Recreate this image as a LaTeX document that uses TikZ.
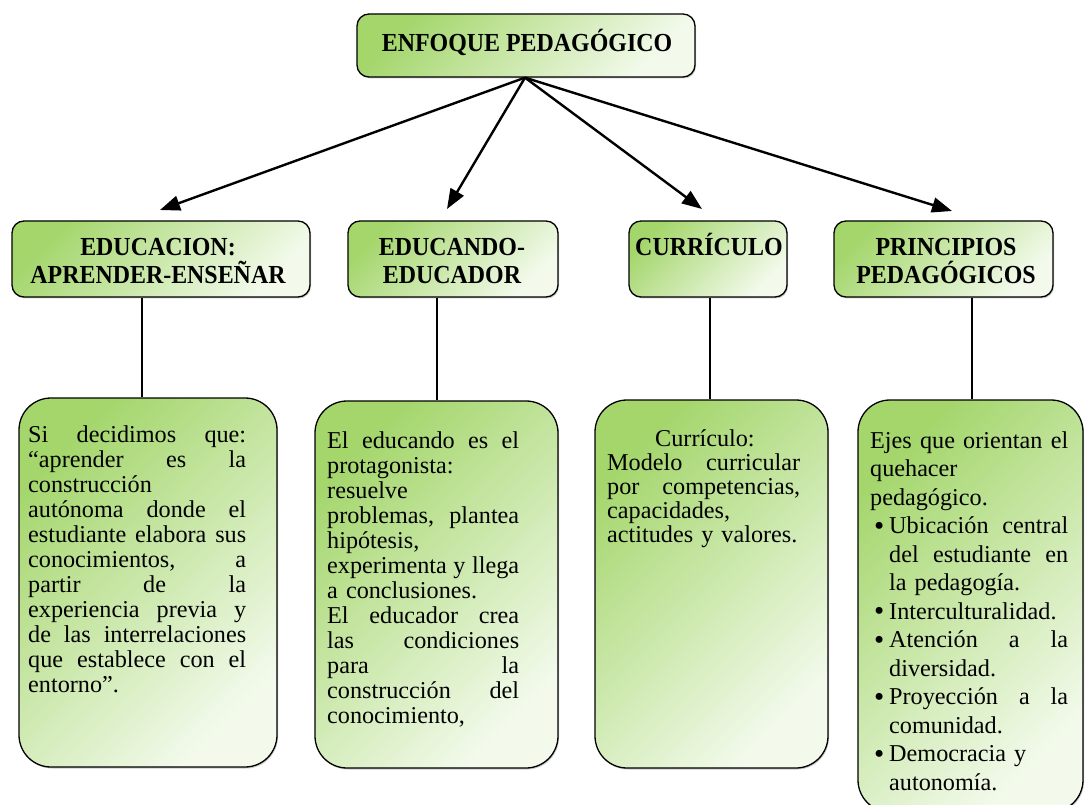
\documentclass[tikz,border=0pt]{standalone}
\usepackage{fontspec}
\setmainfont{Liberation Serif}
\newfontfamily\headfont{Liberation Serif}[FakeStretch=0.92]
\usetikzlibrary{arrows.meta,shadows,calc}
\definecolor{gA}{RGB}{164,214,108}
\definecolor{gB}{RGB}{243,250,236}
\newcommand{\jl}[1]{\makebox[\hsize][s]{\spaceskip=0pt\xspaceskip=0pt #1}}
\newcommand{\bul}{\makebox[19pt][l]{\hspace{4pt}\raisebox{-1.6pt}{\scalebox{1.2}{\textbullet}}}}
\newcommand{\ind}{\makebox[19pt]{}}
\newcommand{\bjl}[1]{\bul\makebox[\dimexpr\hsize-19pt\relax][s]{\spaceskip=0pt\xspaceskip=0pt #1}}
\newcommand{\ijl}[1]{\ind\makebox[\dimexpr\hsize-19pt\relax][s]{\spaceskip=0pt\xspaceskip=0pt #1}}
\tikzset{
  grad/.style={top color=gA, bottom color=gB, shading angle=45},
  shad/.style={drop shadow={shadow xshift=1pt, shadow yshift=-1.5pt, fill=black!40, opacity=0.5}},
  headbox/.style={shad, grad, draw=black, line width=1.3pt, rounded corners=12pt, inner sep=0pt},
  bodybox/.style={shad, grad, draw=black, line width=1.3pt, rounded corners=32pt, inner sep=0pt},
  headtext/.style={font=\headfont\fontsize{26}{28}\selectfont\bfseries, inner sep=0pt, align=center, anchor=north},
  bodytext/.style={font=\fontsize{24.2}{25}\selectfont, inner sep=0pt, align=left, anchor=north west},
  ctext/.style={font=\fontsize{24.2}{24}\selectfont, inner sep=0pt, align=left, anchor=north west},
  listtext/.style={font=\fontsize{24.2}{28.5}\selectfont, inner sep=0pt, align=left, anchor=north west},
  arr/.style={-{Triangle[length=20pt,width=15pt]}, line width=2.4pt},
  vline/.style={line width=1.8pt},
}
\begin{document}
\begin{tikzpicture}[x=1pt,y=-1pt]
\useasboundingbox[fill=white] (0,0) rectangle (1085,805);
% top box
\node[headbox, minimum width=338pt, minimum height=63pt] (top) at (526,45.5) {};
\node[headtext] (topt) at (527,27) {\rule{0pt}{24pt}ENFOQUE PEDAGÓGICO};
% second row
\node[headbox, minimum width=298pt, minimum height=76pt] (A) at (161,259) {};
\node[headbox, minimum width=210pt, minimum height=76pt] (B) at (453,259) {};
\node[headbox, minimum width=158pt, minimum height=76pt] (C) at (708,259) {};
\node[headbox, minimum width=219pt, minimum height=76pt] (D) at (943.5,259) {};
\node[headtext] (At) at (158,231) {\rule{0pt}{24pt}EDUCACION:\\APRENDER-ENSEÑAR};
\node[headtext] (Bt) at (452,231) {\rule{0pt}{24pt}EDUCANDO-\\EDUCADOR};
\node[headtext] (Ct) at (709,231) {\rule{0pt}{24pt}CURRÍCULO};
\node[headtext] (Dt) at (946,231) {\rule{0pt}{24pt}PRINCIPIOS\\PEDAGÓGICOS};
% third row
\node[bodybox, minimum width=258pt, minimum height=369pt] (A2) at (148,582.5) {};
\node[bodybox, minimum width=243pt, minimum height=367pt] (B2) at (436.5,584.5) {};
\node[bodybox, minimum width=233pt, minimum height=368pt] (C2) at (711.5,584) {};
\node[bodybox, minimum width=225pt, minimum height=412pt] (D2) at (970.5,606) {};
\node[bodytext, text width=218pt] (A2t) at (28,422) {\rule{0pt}{20pt}\jl{Si decidimos que:}\\
\jl{“aprender es la}\\
construcción\\
\jl{autónoma donde el}\\
\jl{estudiante elabora sus}\\
\jl{conocimientos, a}\\
\jl{partir de la}\\
\jl{experiencia previa y}\\
\jl{de las interrelaciones}\\
\jl{que establece con el}\\
entorno”.};
\node[bodytext, text width=192pt] (B2t) at (327,428) {\rule{0pt}{20pt}\jl{El educando es el}\\
protagonista:\\
resuelve\\
\jl{problemas, plantea}\\
hipótesis,\\
\jl{experimenta y llega}\\
a conclusiones.\\
\jl{El educador crea}\\
\jl{las condiciones}\\
\jl{para la}\\
\jl{construcción del}\\
conocimiento,};
\node[ctext, text width=193pt] (C2t) at (607,426) {\rule{0pt}{20pt}\makebox[48pt]{}Currículo:\\
\jl{Modelo curricular}\\
\jl{por competencias,}\\
capacidades,\\
actitudes y valores.};
\node[listtext, text width=198pt] (D2t) at (870,428) {\rule{0pt}{20pt}\jl{Ejes que orientan el}\\
quehacer\\
pedagógico.\\
\bjl{Ubicación central}\\
\ijl{del estudiante en}\\
\ind la pedagogía.\\
\bul Interculturalidad.\\
\bjl{Atención a la}\\
\ind diversidad.\\
\bjl{Proyección a la}\\
\ind comunidad.\\
\bul Democracia y\\
\ind autonomía.};
% connectors
\coordinate (hub) at ([xshift=-1pt]top.south);
\coordinate (tipA) at (160,210);
\coordinate (tipB) at (447,209);
\coordinate (tipC) at (702,209);
\coordinate (tipD) at (952,211);
\draw[arr] (hub) -- (tipA);
\draw[arr] (hub) -- (tipB);
\draw[arr] (hub) -- (tipC);
\draw[arr] (hub) -- (tipD);
\draw[vline] (A.south -| 142,0) -- (A2.north -| 142,0);
\draw[vline] (B.south -| 437,0) -- (B2.north -| 437,0);
\draw[vline] (C.south -| 710,0) -- (C2.north -| 710,0);
\draw[vline] (D.south -| 972,0) -- (D2.north -| 972,0);
\end{tikzpicture}
\end{document}
